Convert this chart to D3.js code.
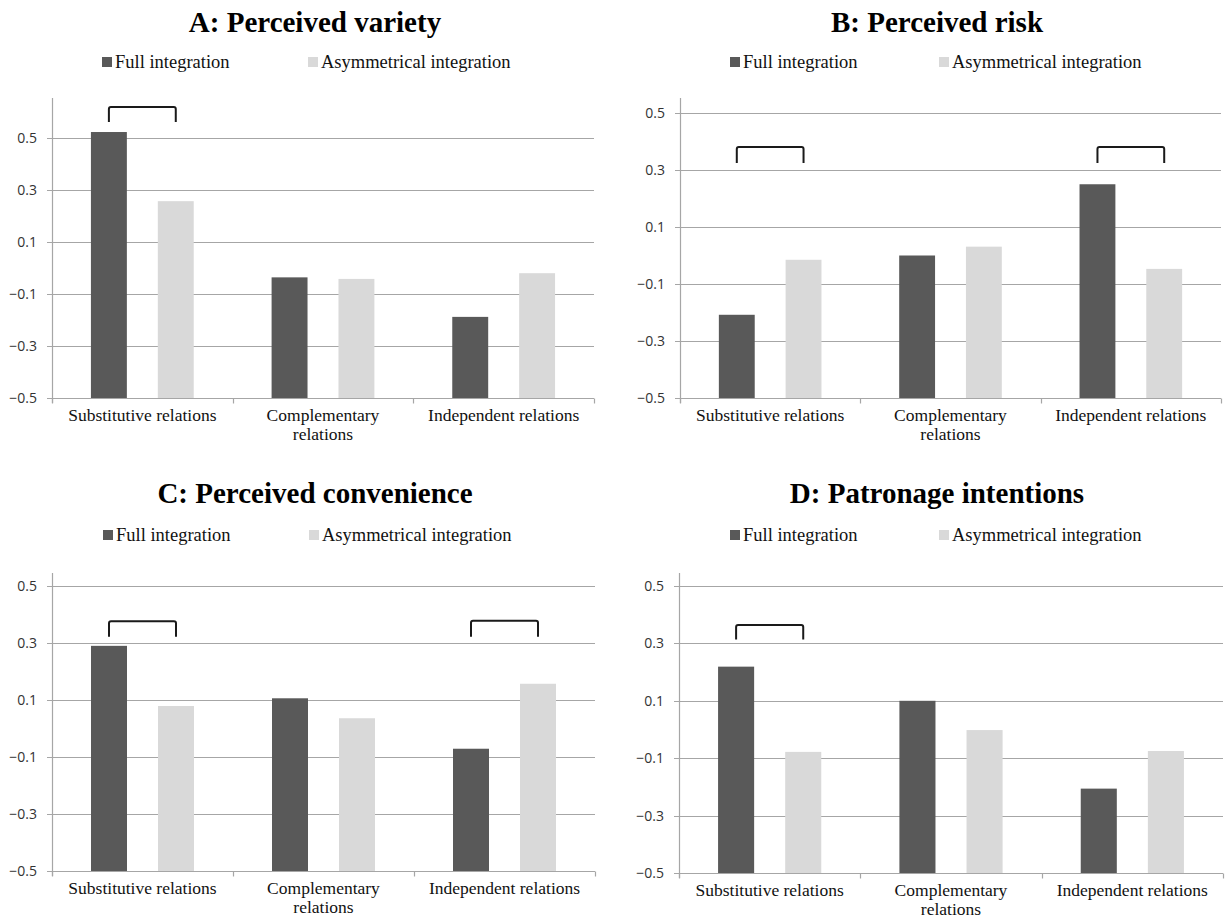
<!DOCTYPE html>
<html>
<head>
<meta charset="utf-8">
<script src="https://cdn.jsdelivr.net/npm/d3@7"></script>
<style>
  html, body { margin: 0; padding: 0; background: #ffffff; }
  svg { display: block; }
</style>
</head>
<body>
<svg id="chart" width="1226" height="920"></svg>
<script>
// ---------------- data ----------------
const categories = ["Substitutive relations", "Complementary relations", "Independent relations"];
const seriesNames = ["Full integration", "Asymmetrical integration"];
const panelTitles = ["A: Perceived variety", "B: Perceived risk", "C: Perceived convenience", "D: Patronage intentions"];
const yTicks = [-0.5, -0.3, -0.1, 0.1, 0.3, 0.5];

// values per panel: [Full integration, Asymmetrical integration] for each category
const fullA = [0.523, -0.036, -0.188];
const asymA = [0.257, -0.042, -0.020];
const fullB = [-0.208, 0.000, 0.250];
const asymB = [-0.015, 0.031, -0.047];
const fullC = [0.290, 0.106, -0.071];
const asymC = [0.079, 0.036, 0.157];
const fullD = [0.219, 0.100, -0.206];
const asymD = [-0.078, -0.002, -0.075];

// significance brackets: category index and bracket top / bottom values
const bracketsA = [{cat: 0, top: 0.619, bottom: 0.562}];
const bracketsB = [{cat: 0, top: 0.381, bottom: 0.325}, {cat: 2, top: 0.381, bottom: 0.325}];
const bracketsC = [{cat: 0, top: 0.376, bottom: 0.322}, {cat: 2, top: 0.378, bottom: 0.322}];
const bracketsD = [{cat: 0, top: 0.364, bottom: 0.314}];

// ---------------- layout ----------------
const panels = [
  {title: panelTitles[0], full: fullA, asym: asymA, brackets: bracketsA,
   x0: 52, x1: 594, yTopVal: 138, yBot: 398, axisTop: 98, titleX: 315, titleY: 32, legY: 68, legX1: 102, legX2: 308},
  {title: panelTitles[1], full: fullB, asym: asymB, brackets: bracketsB,
   x0: 680, x1: 1221, yTopVal: 113, yBot: 398, axisTop: 98, titleX: 937, titleY: 32, legY: 68, legX1: 730, legX2: 939},
  {title: panelTitles[2], full: fullC, asym: asymC, brackets: bracketsC,
   x0: 52, x1: 595, yTopVal: 586, yBot: 871, axisTop: 573, titleX: 315, titleY: 503, legY: 541, legX1: 103, legX2: 309},
  {title: panelTitles[3], full: fullD, asym: asymD, brackets: bracketsD,
   x0: 679, x1: 1223, yTopVal: 586, yBot: 873, axisTop: 573, titleX: 937, titleY: 503, legY: 541, legX1: 730, legX2: 939}
];

const colors = ["#595959", "#d9d9d9"];
const gridColor = "#a6a6a6";
const serif = "'Liberation Serif', 'Times New Roman', serif";
const sans = "'Open Sans', 'Liberation Sans', sans-serif";

const svg = d3.select("#chart");

function wrapText(textSel, maxWidth) {
  textSel.each(function() {
    const t = d3.select(this);
    const words = t.text().split(/\s+/);
    const x = t.attr("x");
    t.text(null);
    let line = [];
    let tspan = t.append("tspan").attr("x", x).attr("dy", 0);
    words.forEach(w => {
      line.push(w);
      tspan.text(line.join(" "));
      if (tspan.node().getComputedTextLength() > maxWidth && line.length > 1) {
        line.pop();
        tspan.text(line.join(" "));
        line = [w];
        tspan = t.append("tspan").attr("x", x).attr("dy", "19.4px").text(w);
      }
    });
  });
}

panels.forEach(p => {
  const g = svg.append("g");
  const y = d3.scaleLinear().domain([-0.5, 0.5]).range([p.yBot, p.yTopVal]);
  const x = d3.scaleBand().domain(categories).range([p.x0, p.x1]).padding(0);
  const xs = d3.scaleBand().domain(seriesNames).range([0, x.bandwidth()])
    .paddingInner(31 / 67).paddingOuter(39 / 67);

  // title
  g.append("text")
    .attr("x", p.titleX).attr("y", p.titleY)
    .attr("text-anchor", "middle")
    .attr("font-family", serif).attr("font-weight", "bold").attr("font-size", "29px")
    .attr("fill", "#000")
    .text(p.title);

  // legend
  [p.legX1, p.legX2].forEach((lx, i) => {
    g.append("rect").attr("x", lx).attr("y", p.legY - 11).attr("width", 10).attr("height", 10)
      .attr("fill", colors[i]);
    g.append("text").attr("x", lx + 13).attr("y", p.legY)
      .attr("font-family", serif).attr("font-size", "18.5px").attr("fill", "#111")
      .text(seriesNames[i]);
  });

  // gridlines (excluding the -0.5 baseline)
  g.selectAll(".grid").data(yTicks.filter(v => v > -0.5)).enter().append("line")
    .attr("x1", p.x0 - 5).attr("x2", p.x1)
    .attr("y1", d => Math.round(y(d)) + 0.5).attr("y2", d => Math.round(y(d)) + 0.5)
    .attr("stroke", gridColor).attr("stroke-width", 1.2);

  // y axis labels
  g.selectAll(".ylab").data(yTicks).enter().append("text")
    .attr("x", p.x0 - 15).attr("y", d => y(d))
    .attr("dy", "0.35em")
    .attr("text-anchor", "end")
    .attr("font-family", sans).attr("font-size", "14px").attr("fill", "#333")
    .text(d => d3.format(".1f")(d));

  // bars
  const rows = categories.map((c, i) => ({cat: c, vals: [p.full[i], p.asym[i]]}));
  rows.forEach(r => {
    r.vals.forEach((v, si) => {
      g.append("rect")
        .attr("x", x(r.cat) + xs(seriesNames[si]))
        .attr("width", xs.bandwidth())
        .attr("y", y(v))
        .attr("height", y(-0.5) - y(v))
        .attr("fill", colors[si]);
    });
  });

  // y axis line
  g.append("line").attr("x1", p.x0 + 0.5).attr("x2", p.x0 + 0.5)
    .attr("y1", p.axisTop).attr("y2", p.yBot + 5)
    .attr("stroke", gridColor).attr("stroke-width", 1.2);

  // x axis line + ticks at band boundaries
  const yb = Math.round(y(-0.5)) + 0.5;
  g.append("line").attr("x1", p.x0 - 5).attr("x2", p.x1)
    .attr("y1", yb).attr("y2", yb)
    .attr("stroke", gridColor).attr("stroke-width", 1.2);
  const bounds = categories.map(c => x(c)).concat([p.x1]);
  g.selectAll(".xtick").data(bounds).enter().append("line")
    .attr("x1", d => Math.round(d) + 0.5).attr("x2", d => Math.round(d) + 0.5)
    .attr("y1", yb).attr("y2", yb + 5)
    .attr("stroke", gridColor).attr("stroke-width", 1.2);

  // category labels
  g.selectAll(".xlab").data(categories).enter().append("text")
    .attr("x", d => x(d) + x.bandwidth() / 2)
    .attr("y", p.yBot + 23)
    .attr("text-anchor", "middle")
    .attr("font-family", serif).attr("font-size", "17.5px").attr("fill", "#111")
    .text(d => d)
    .call(wrapText, 172);

  // significance brackets
  p.brackets.forEach(b => {
    const cat = categories[b.cat];
    const xl = x(cat) + xs(seriesNames[0]) + xs.bandwidth() / 2;
    const xr = x(cat) + xs(seriesNames[1]) + xs.bandwidth() / 2;
    const yt = y(b.top), ybt = y(b.bottom);
    const path = d3.path();
    path.moveTo(xl, ybt);
    path.lineTo(xl, yt + 2);
    path.quadraticCurveTo(xl, yt, xl + 2, yt);
    path.lineTo(xr - 2, yt);
    path.quadraticCurveTo(xr, yt, xr, yt + 2);
    path.lineTo(xr, ybt);
    g.append("path").attr("d", path.toString())
      .attr("fill", "none").attr("stroke", "#1a1a1a").attr("stroke-width", 2);
  });
});
</script>
</body>
</html>
